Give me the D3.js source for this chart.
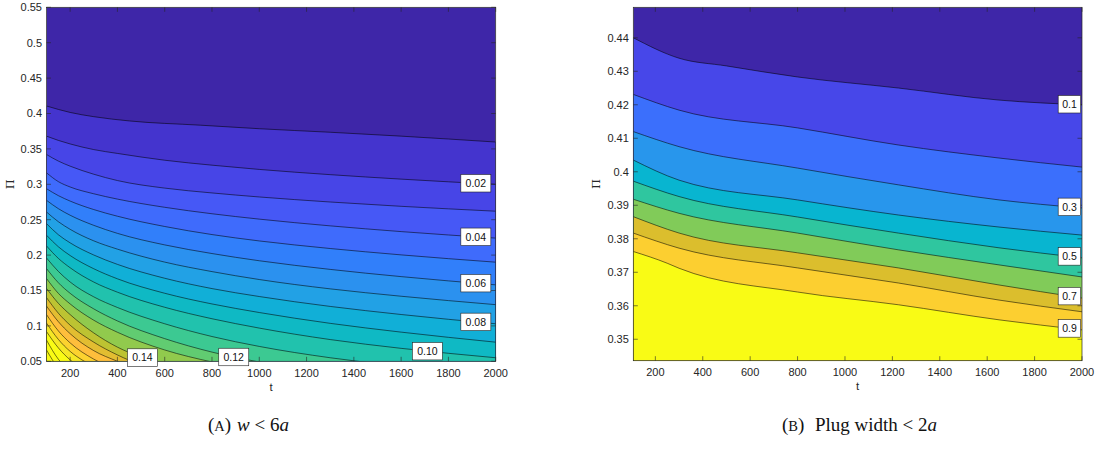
<!DOCTYPE html>
<html><head><meta charset="utf-8">
<script src="https://cdn.jsdelivr.net/npm/d3@7"></script>
<style>body{margin:0;background:#fff}svg{display:block}</style>
</head><body>
<svg id="c" width="1097" height="454"></svg>
<script>
// ---------------- DATA ----------------
const tTicks = [200, 400, 600, 800, 1000, 1200, 1400, 1600, 1800, 2000];
const piTicksA = [0.05, 0.1, 0.15, 0.2, 0.25, 0.3, 0.35, 0.4, 0.45, 0.5, 0.55];
const piTicksB = [0.35, 0.36, 0.37, 0.38, 0.39, 0.4, 0.41, 0.42, 0.43, 0.44];

// Panel A contour levels and the lines ([t, Pi] pairs)
const levelsA = [0.01,0.02,0.03,0.04,0.05,0.06,0.07,0.08,0.09,0.10,0.11,0.12,0.13,0.14,0.15,0.16,0.17,0.18,0.19,0.20,0.21];
const linesA = [
  [[100,0.4106],[200,0.4015],[300,0.3955],[450,0.3895],[750,0.3835],[1000,0.3785],[1300,0.3735],[1600,0.3680],[2000,0.3597]],
  [[100,0.368],[150,0.362],[200,0.357],[300,0.349],[400,0.3436],[600,0.334],[800,0.327],[1000,0.321],[1300,0.3136],[1600,0.3073],[2000,0.300]],
  [[100,0.3421],[150,0.3328],[200,0.3256],[300,0.3142],[400,0.3053],[600,0.2946],[800,0.2878],[1000,0.2821],[1300,0.2750],[1600,0.2689],[2000,0.262]],
  [[100,0.3162],[150,0.3038],[200,0.2962],[300,0.2866],[400,0.2791],[600,0.2675],[800,0.2584],[1000,0.2508],[1300,0.2413],[1600,0.2332],[2000,0.224]],
  [[100,0.2938],[150,0.2840],[200,0.2763],[300,0.2643],[400,0.2549],[600,0.2404],[800,0.2290],[1000,0.2200],[1300,0.2093],[1600,0.2003],[2000,0.190]],
  [[100,0.2774],[150,0.2656],[200,0.2563],[300,0.2420],[400,0.2307],[600,0.2144],[800,0.2022],[1000,0.1920],[1300,0.1798],[1600,0.1696],[2000,0.158]],
  [[100,0.2609],[150,0.2472],[200,0.2364],[300,0.2201],[400,0.2084],[600,0.1901],[800,0.1767],[1000,0.1655],[1300,0.1523],[1600,0.1419],[2000,0.130]],
  [[100,0.2445],[150,0.2288],[200,0.2173],[300,0.2001],[400,0.1869],[600,0.1673],[800,0.1527],[1000,0.1415],[1300,0.1275],[1600,0.1161],[2000,0.103]],
  [[100,0.2281],[150,0.2118],[200,0.1994],[300,0.1807],[400,0.1665],[600,0.1461],[800,0.1310],[1000,0.1189],[1300,0.1036],[1600,0.0912],[2000,0.077]],
  [[100,0.2130],[150,0.1954],[200,0.1821],[300,0.1619],[400,0.1476],[600,0.1263],[800,0.1101],[1000,0.0969],[1300,0.0807],[1600,0.0683],[2000,0.055]],
  [[100,0.196],[150,0.177],[200,0.162],[300,0.141],[400,0.126],[600,0.103],[800,0.085],[1000,0.071],[1300,0.055],[1600,0.043],[2000,0.030]],
  [[100,0.181],[150,0.161],[200,0.146],[300,0.124],[400,0.107],[600,0.082],[800,0.063],[1000,0.049],[1300,0.033]],
  [[100,0.167],[150,0.146],[200,0.131],[300,0.108],[400,0.091],[600,0.066],[800,0.049],[1000,0.036]],
  [[100,0.153],[150,0.132],[200,0.116],[300,0.090],[400,0.070],[500,0.056],[600,0.046],[800,0.031]],
  [[100,0.140],[150,0.118],[200,0.101],[300,0.077],[400,0.059],[500,0.045],[600,0.036]],
  [[100,0.128],[150,0.106],[200,0.089],[300,0.065],[400,0.050],[500,0.037]],
  [[100,0.116],[150,0.093],[200,0.076],[300,0.053],[400,0.038]],
  [[100,0.104],[150,0.081],[200,0.064],[250,0.052],[300,0.043]],
  [[100,0.092],[150,0.069],[200,0.052],[250,0.040]],
  [[100,0.080],[150,0.053],[200,0.037]],
  [[100,0.066],[125,0.052],[150,0.040]]
];
const labelsA = [[0.02,1916],[0.04,1916],[0.06,1916],[0.08,1916],[0.10,1711],[0.12,892],[0.14,506]];

// Panel B
const levelsB = [0.1,0.2,0.3,0.4,0.5,0.6,0.7,0.8,0.9];
const linesB = [
  [[107,0.4400],[300,0.4339],[500,0.4316],[800,0.4283],[1225,0.4250],[1650,0.4214],[2000,0.4200]],
  [[107,0.4231],[300,0.4184],[800,0.4131],[1225,0.4080],[1650,0.4041],[2000,0.4014]],
  [[107,0.4120],[300,0.4075],[800,0.4011],[1225,0.3961],[1650,0.3916],[2000,0.3892]],
  [[107,0.4035],[300,0.3975],[800,0.3916],[1225,0.3871],[1650,0.3835],[2000,0.3811]],
  [[107,0.3972],[300,0.3926],[800,0.3865],[1225,0.3817],[1650,0.3773],[2000,0.3743]],
  [[107,0.3918],[300,0.3876],[800,0.3817],[1225,0.3767],[1650,0.3722],[2000,0.3686]],
  [[107,0.3866],[300,0.3817],[800,0.3758],[1225,0.3713],[1650,0.3662],[2000,0.3623]],
  [[107,0.3817],[300,0.3772],[800,0.3713],[1225,0.3668],[1650,0.3617],[2000,0.3582]],
  [[107,0.3762],[250,0.3727],[300,0.3712],[800,0.3641],[1225,0.3603],[1650,0.3558],[2000,0.3528]]
];
const labelsB = [[0.1,1947],[0.3,1947],[0.5,1947],[0.7,1947],[0.9,1947]];

const captionA = ["(", "A", ")", "w", " < 6", "a"];
const captionB = ["(", "B", ")", " Plug width < 2", "a"];

// ---------------- STYLE ----------------
const colorLimitA = 0.19;   // colour-axis upper limit, panel A
const colorLimitB = 0.9;    // colour-axis upper limit, panel B
const parulaStops = [
 [0,[0.2422,0.1504,0.6603]],[4/63,[0.2706,0.2147,0.8364]],[8/63,[0.2813,0.3006,0.9414]],
 [12/63,[0.2699,0.3892,0.9906]],[16/63,[0.1963,0.4847,0.9892]],[20/63,[0.1687,0.5703,0.9359]],
 [24/63,[0.1248,0.6459,0.8883]],[28/63,[0.0297,0.7082,0.8163]],[32/63,[0.0964,0.7500,0.7120]],
 [36/63,[0.2161,0.7843,0.5923]],[40/63,[0.3909,0.8029,0.4354]],[44/63,[0.6174,0.7876,0.2612]],
 [48/63,[0.8203,0.7498,0.1535]],[52/63,[0.9728,0.7298,0.2394]],[53/63,[0.9956,0.7434,0.2371]],
 [56/63,[0.9892,0.8136,0.1885]],[60/63,[0.9597,0.9135,0.1423]],[1,[0.9769,0.9839,0.0805]]
];
function parula(v){
  v = Math.max(0, Math.min(1, v));
  for (let i=1;i<parulaStops.length;i++){
    const [p1,c1]=parulaStops[i], [p0,c0]=parulaStops[i-1];
    if (v<=p1){ const f=(v-p0)/(p1-p0);
      return d3.rgb(...c0.map((c,j)=>255*(c+(c1[j]-c)*f))).formatHex(); }
  }
  return "#f9fb15";
}
const axisCol = "#262626";
const font = "'Liberation Sans', Arial, Helvetica, sans-serif";

const svg = d3.select("#c");

function panel(o){
  const {x, y, lines, levels, labels, fmt, xTicks, yTicks, yFmt, id, cLim} = o;
  const [x0,x1] = x.range(), [yb,yt] = y.range();
  const g = svg.append("g");
  g.append("clipPath").attr("id",id).append("rect")
    .attr("x",x0).attr("y",yt).attr("width",x1-x0).attr("height",yb-yt);
  const pg = g.append("g").attr("clip-path",`url(#${id})`);
  pg.append("rect").attr("x",x0).attr("y",yt).attr("width",x1-x0).attr("height",yb-yt)
    .attr("fill", parula(0));
  const area = d3.area().x(d=>x(d[0])).y0(yb).y1(d=>y(d[1])).curve(d3.curveMonotoneX);
  const line = d3.line().x(d=>x(d[0])).y(d=>y(d[1])).curve(d3.curveMonotoneX);
  lines.forEach((ln,i)=>{
    pg.append("path").attr("d",area(ln)).attr("fill",parula(levels[i]/cLim));
  });
  const paths = lines.map(ln => pg.append("path").attr("d",line(ln)).attr("fill","none")
      .attr("stroke","#000").attr("stroke-width",0.6).attr("stroke-opacity",0.9));
  // ticks
  const tl = 4.5;
  xTicks.forEach(t=>{
    const px = x(t);
    g.append("line").attr("x1",px).attr("x2",px).attr("y1",yb).attr("y2",yb-tl).attr("stroke",axisCol).attr("stroke-width",0.6);
    g.append("line").attr("x1",px).attr("x2",px).attr("y1",yt).attr("y2",yt+tl).attr("stroke",axisCol).attr("stroke-width",0.6);
    g.append("text").attr("x",px).attr("y",yb+15.5).attr("text-anchor","middle")
      .attr("font-family",font).attr("font-size",11).attr("fill",axisCol).text(t);
  });
  yTicks.forEach(v=>{
    const py = y(v);
    g.append("line").attr("x1",x0).attr("x2",x0+tl).attr("y1",py).attr("y2",py).attr("stroke",axisCol).attr("stroke-width",0.6);
    g.append("line").attr("x1",x1).attr("x2",x1-tl).attr("y1",py).attr("y2",py).attr("stroke",axisCol).attr("stroke-width",0.6);
    g.append("text").attr("x",x0-4.5).attr("y",py+3.8).attr("text-anchor","end")
      .attr("font-family",font).attr("font-size",11).attr("fill",axisCol).text(yFmt(v));
  });
  g.append("rect").attr("x",x0).attr("y",yt).attr("width",x1-x0).attr("height",yb-yt)
    .attr("fill","none").attr("stroke",axisCol).attr("stroke-width",0.7);
  // axis labels
  g.append("text").attr("x",(x0+x1)/2).attr("y",yb+29.5).attr("text-anchor","middle")
    .attr("font-family",font).attr("font-size",11.5).attr("fill",axisCol).text("t");
  g.append("text").attr("transform",`translate(${o.yLabelX},${(yt+yb)/2}) rotate(-90)`)
    .attr("text-anchor","middle").attr("font-family","'DejaVu Serif', serif").attr("font-size",11).attr("fill",axisCol).text("Π");
  // contour labels
  labels.forEach(([lev,t])=>{
    const idx = levels.findIndex(l=>Math.abs(l-lev)<1e-9);
    const node = paths[idx].node();
    const tx = x(t);
    let lo=0, hi=node.getTotalLength();
    for (let k=0;k<40;k++){ const m=(lo+hi)/2; if (node.getPointAtLength(m).x<tx) lo=m; else hi=m; }
    const py = node.getPointAtLength(lo).y;
    const txt = fmt(lev);
    const w = o.boxW, h = 17.5;
    g.append("rect").attr("x",tx-w/2).attr("y",py-h/2).attr("width",w).attr("height",h)
      .attr("fill","#fff").attr("stroke","#222").attr("stroke-width",0.6);
    g.append("text").attr("x",tx).attr("y",py+3.7).attr("text-anchor","middle")
      .attr("font-family",font).attr("font-size",10.5).attr("fill","#111").text(txt);
  });
}

const xA = d3.scaleLinear().domain([100,2000]).range([46.5,495.7]);
const yA = d3.scaleLinear().domain([0.05,0.55]).range([361.3,7.3]);
panel({id:"clipA", x:xA, y:yA, lines:linesA, levels:levelsA, labels:labelsA,
  fmt:d3.format(".2f"), xTicks:tTicks, yTicks:piTicksA, yFmt:v=>String(+v.toFixed(2)),
  cLim:colorLimitA, boxW:30, yLabelX:14});

const xB = d3.scaleLinear().domain([107,2000]).range([633.3,1082]);
const yB = d3.scaleLinear().domain([0.3436,0.4491]).range([360.7,7.3]);
panel({id:"clipB", x:xB, y:yB, lines:linesB, levels:levelsB, labels:labelsB,
  fmt:d3.format(".1f"), xTicks:tTicks, yTicks:piTicksB, yFmt:v=>String(+v.toFixed(2)),
  cLim:colorLimitB, boxW:22.5, yLabelX:600});

// captions
function caption(parts, cx, cy){
  const t = svg.append("text").attr("x",cx).attr("y",cy).attr("text-anchor","middle")
    .attr("font-family","'Liberation Serif','Times New Roman',serif").attr("font-size",19).attr("fill","#111");
  parts.forEach((p,i)=>{
    const s = t.append("tspan").text(p);
    if (i===1) s.attr("font-size",14.5);
    if (p==="w"||p==="a") s.attr("font-style","italic");
    if (i===3) s.attr("dx",6);
  });
}
caption(captionA, 248.5, 431);
caption(captionB, 859.5, 431);
</script>
</body></html>
